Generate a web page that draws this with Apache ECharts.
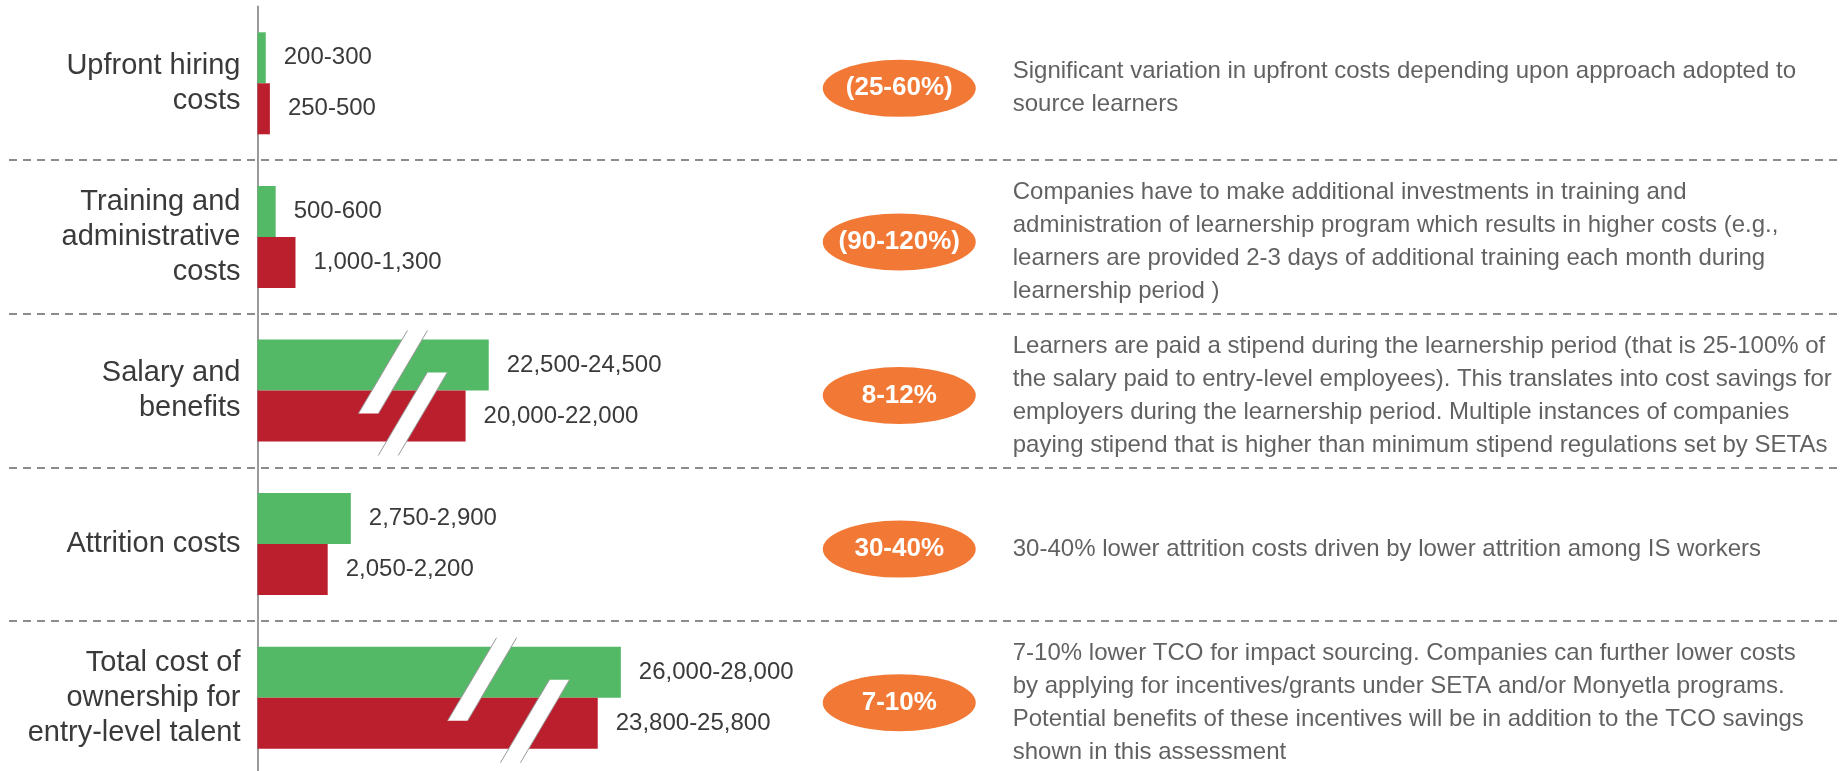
<!DOCTYPE html>
<html>
<head>
<meta charset="utf-8">
<title>TCO comparison</title>
<script src="https://cdn.jsdelivr.net/npm/echarts@6/dist/echarts.min.js"></script>
<style>
  html, body { margin: 0; padding: 0; background: #fff; }
  #chart { width: 1843px; height: 771px; }
</style>
</head>
<body>
<div id="chart"></div>
<script>
var categories = [
  'Upfront hiring\ncosts',
  'Training and\nadministrative\ncosts',
  'Salary and\nbenefits',
  'Attrition costs',
  'Total cost of\nownership for\nentry-level talent'
];

// cost ranges, green = impact sourcing, red = traditional
var greenLow  = [200, 500, 22500, 2750, 26000];
var greenHigh = [300, 600, 24500, 2900, 28000];
var redLow    = [250, 1000, 20000, 2050, 23800];
var redHigh   = [500, 1300, 22000, 2200, 25800];

// part of the scale skipped by the // marks, and where the mark sits
var greenCut     = [0, 0, 16500, 0, 16000];
var redCut       = [0, 0, 14700, 0, 14500];
var greenBreakAt = [null, null, 4100, null, 6800];
var redBreakAt   = [null, null, 4700, null, 8400];

var savings = ['(25-60%)', '(90-120%)', '8-12%', '30-40%', '7-10%'];

var notes = [
  'Significant variation in upfront costs depending upon approach adopted to\nsource learners',
  'Companies have to make additional investments in training and\nadministration of learnership program which results in higher costs (e.g.,\nlearners are provided 2-3 days of additional training each month during\nlearnership period )',
  'Learners are paid a stipend during the learnership period (that is 25-100% of\nthe salary paid to entry-level employees). This translates into cost savings for\nemployers during the learnership period. Multiple instances of companies\npaying stipend that is higher than minimum stipend regulations set by SETAs',
  '30-40% lower attrition costs driven by lower attrition among IS workers',
  '7-10% lower TCO for impact sourcing. Companies can further lower costs\nby applying for incentives/grants under SETA and/or Monyetla programs.\nPotential benefits of these incentives will be in addition to the TCO savings\nshown in this assessment'
];

var GREEN = '#53b966', RED = '#bb1f2e', ORANGE = '#f27935', TEXT = '#3a3a3a';
var FONT = '"Liberation Sans", Arial, Helvetica, sans-serif';
var BAR_W = 51;

function fmt(n) { return n.toLocaleString('en-US'); }

function barData(low, high, cut) {
  var out = [];
  for (var i = 0; i < low.length; i++) {
    out.push({
      value: (low[i] + high[i]) / 2 - cut[i],
      rangeText: fmt(low[i]) + '-' + fmt(high[i])
    });
  }
  return out;
}

var slashData = [];
for (var i = 0; i < categories.length; i++) {
  if (greenBreakAt[i] != null) slashData.push([greenBreakAt[i], i, 0]);
  if (redBreakAt[i] != null) slashData.push([redBreakAt[i], i, 1]);
}

function renderSlash(params, api) {
  var p = api.coord([api.value(0), api.value(1)]);
  var side = api.value(2);
  var xc = p[0];
  var yc = p[1] + (side === 0 ? -BAR_W / 2 + 7 : BAR_W / 2 - 2);
  var h = 83, w = 20, shift = 49;
  var tl = [xc + shift / 2 - w / 2, yc - h / 2];
  var tr = [xc + shift / 2 + w / 2, yc - h / 2];
  var br = [xc - shift / 2 + w / 2, yc + h / 2];
  var bl = [xc - shift / 2 - w / 2, yc + h / 2];
  var edge = { stroke: '#9a9a9a', lineWidth: 1 };
  return {
    type: 'group',
    children: [
      { type: 'polygon', shape: { points: [tl, tr, br, bl] }, style: { fill: '#fff' } },
      { type: 'line', shape: { x1: tl[0], y1: tl[1], x2: bl[0], y2: bl[1] }, style: edge },
      { type: 'line', shape: { x1: tr[0], y1: tr[1], x2: br[0], y2: br[1] }, style: edge }
    ]
  };
}

var valueLabel = {
  show: true,
  position: 'right',
  distance: 18,
  fontSize: 24,
  fontFamily: FONT,
  color: TEXT,
  formatter: function (p) { return p.data.rangeText; }
};

var option = {
  backgroundColor: '#fff',
  animation: false,
  grid: [
    { left: 257.5, right: 0, top: 6.5, height: 768, outerBoundsMode: 'none' },
    { left: 9, right: 0, top: 6.5, height: 768, outerBoundsMode: 'none' },
    { left: 822.5, width: 153.5, top: 6.5, height: 768, outerBoundsMode: 'none' }
  ],
  xAxis: [
    { type: 'value', gridIndex: 0, min: 0, max: 48000, show: false },
    { type: 'value', gridIndex: 1, show: false },
    { type: 'category', gridIndex: 2, data: ['pct'], show: false }
  ],
  yAxis: [
    {
      type: 'category', gridIndex: 0, data: categories, inverse: true,
      axisLine: { show: true, lineStyle: { color: '#999', width: 2 } },
      axisTick: { show: false },
      splitLine: { show: false },
      axisLabel: {
        fontSize: 29, lineHeight: 35, fontFamily: FONT, color: TEXT, margin: 17
      }
    },
    {
      type: 'category', gridIndex: 1, data: categories, inverse: true,
      axisLine: { show: false }, axisTick: { show: false }, axisLabel: { show: false },
      splitLine: {
        show: true,
        interval: function (idx) { return idx > 0; },
        lineStyle: { color: '#8c8c8c', width: 2, type: [8, 6] }
      }
    },
    {
      type: 'category', gridIndex: 2, data: categories, inverse: true, show: false
    }
  ],
  series: [
    {
      type: 'bar', xAxisIndex: 0, yAxisIndex: 0,
      barWidth: BAR_W, barGap: '0%',
      itemStyle: { color: GREEN },
      label: valueLabel,
      data: barData(greenLow, greenHigh, greenCut)
    },
    {
      type: 'bar', xAxisIndex: 0, yAxisIndex: 0,
      barWidth: BAR_W, barGap: '0%',
      itemStyle: { color: RED },
      label: valueLabel,
      data: barData(redLow, redHigh, redCut)
    },
    {
      type: 'custom', xAxisIndex: 0, yAxisIndex: 0, z: 5,
      renderItem: renderSlash,
      data: slashData
    },
    {
      type: 'scatter', xAxisIndex: 2, yAxisIndex: 2,
      symbol: 'circle', symbolSize: [153, 57], symbolOffset: [0, 5],
      itemStyle: { color: ORANGE, opacity: 1 },
      label: {
        show: true, position: 'inside', color: '#fff', fontSize: 26,
        fontWeight: 'bold', fontFamily: FONT,
        formatter: function (p) { return savings[p.dataIndex]; }
      },
      data: savings.map(function (s, i) { return [0, i]; })
    },
    {
      type: 'scatter', xAxisIndex: 2, yAxisIndex: 2,
      symbol: 'rect', symbolSize: [153, 57], symbolOffset: [0, 5],
      itemStyle: { color: 'rgba(0,0,0,0)' },
      label: {
        show: true, position: 'right', distance: 37, align: 'left',
        fontSize: 24, lineHeight: 33, fontFamily: FONT, color: TEXT,
        formatter: function (p) { return notes[p.dataIndex]; }
      },
      data: notes.map(function (s, i) { return [0, i]; })
    }
  ]
};

var myChart = echarts.init(document.getElementById('chart'));
myChart.setOption(option);
</script>
</body>
</html>
